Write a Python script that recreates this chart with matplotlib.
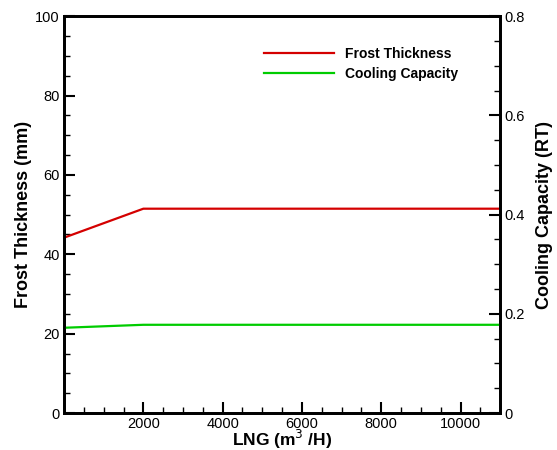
import matplotlib
matplotlib.use('Agg')
import matplotlib.pyplot as plt
from matplotlib.ticker import MultipleLocator

plt.rcParams['font.family'] = ['Liberation Sans', 'DejaVu Sans']

# LNG flow (m3/H)
lng_flow = [0, 2000, 4000, 6000, 8000, 10000, 11000]
# frost thickness (mm), left axis
frost_thickness = [44.2, 51.5, 51.5, 51.5, 51.5, 51.5, 51.5]
# cooling capacity (RT), right axis
cooling_capacity = [0.172, 0.178, 0.178, 0.178, 0.178, 0.178, 0.178]

fig = plt.figure(figsize=(5.57, 4.5), dpi=100)
ax = fig.add_axes([0.115, 0.082, 0.783, 0.882])
ax2 = ax.twinx()

l1, = ax.plot(lng_flow, frost_thickness, color='#d40000', lw=1.6)
l2, = ax2.plot(lng_flow, cooling_capacity, color='#00cc00', lw=1.6)

ax.set_xlim(0, 11000)
ax.set_ylim(0, 100)
ax2.set_ylim(0, 0.8)

ax.xaxis.set_minor_locator(MultipleLocator(500))
ax.yaxis.set_minor_locator(MultipleLocator(5))
ax2.yaxis.set_minor_locator(MultipleLocator(0.05))

ax.set_xticks([2000, 4000, 6000, 8000, 10000])
ax.set_yticks([0, 20, 40, 60, 80, 100])
ax.set_yticklabels(['0', '20', '40', '60', '80', '100'])
ax2.set_yticks([0, 0.2, 0.4, 0.6, 0.8])
ax2.set_yticklabels(['0', '0.2', '0.4', '0.6', '0.8'])

for a in (ax, ax2):
    for s in a.spines.values():
        s.set_linewidth(2)
    a.tick_params(which='major', direction='in', length=8, width=1.5, labelsize=10.5, pad=3)
    a.tick_params(which='minor', direction='in', length=4, width=1)
ax.tick_params(axis='y', which='both', right=False)
ax.tick_params(axis='x', which='both', top=False)

ax.set_xlabel(r'LNG (m$^{3}$ /H)', fontsize=12.5, fontweight='bold', va='center')
ax.xaxis.set_label_coords(0.5, -0.066)
ax.set_ylabel('Frost Thickness (mm)', fontsize=13, fontweight='bold', labelpad=2)
ax2.set_ylabel('Cooling Capacity (RT)', fontsize=13, fontweight='bold', labelpad=8)

leg = ax.legend([l1, l2], ['Frost Thickness', 'Cooling Capacity'],
                loc='upper left', bbox_to_anchor=(0.43, 0.955), frameon=False,
                handlelength=5.0, handletextpad=0.8, labelspacing=0.45,
                prop={'weight': 'bold', 'size': 10})

plt.savefig('out.png', dpi=100)
